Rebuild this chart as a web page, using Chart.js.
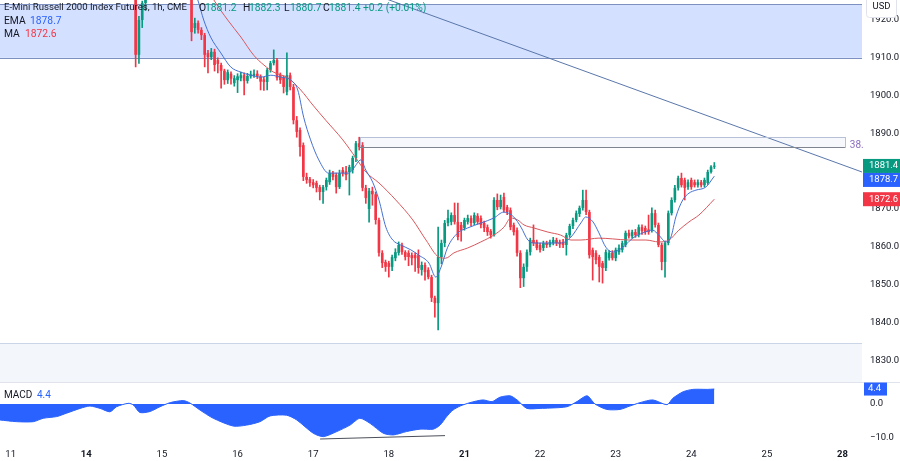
<!DOCTYPE html>
<html><head><meta charset="utf-8">
<script src="https://cdn.jsdelivr.net/npm/chart.js@4.4.1/dist/chart.umd.min.js"></script>
<style>html,body{margin:0;padding:0;background:#fff;}canvas{display:block;}</style>
</head><body>
<canvas id="c" width="900" height="461"></canvas>
<script>
const FONT = 'Roboto, "Liberation Sans", Arial, sans-serif';
const UP = '#089981', DOWN = '#f23645', TXT = '#131722';

// hourly candles, first candle is hour index 38 (hour 0 = session start of the 11th)
const candleStart = 38;
const opens = [
1927,1910.8,1920,1924.5,1927.5,1929,1931,1930,1932,1931,
1933,1934,1933,1932,1931,1929.5,1928,1926,1917.9,1919.2,
1917.4,1916.0,1911.3,1910.2,1911.6,1909.4,1908.1,1906.6,1904.1,1905.8,
1903.3,1904.1,1904.6,1905.4,1903.9,1905.1,1905.2,1905.8,1905.1,1904.3,
1903.6,1906.8,1908.6,1909.4,1905.4,1904.7,1901.0,1905.4,1902.3,1893.5,
1890.9,1886.9,1878.5,1877.9,1877.1,1876.9,1875.8,1874.5,1875.8,1877.1,
1879.5,1879.0,1875.8,1880.3,1880.0,1879.8,1880.3,1883.5,1887.4,1886.9,
1875.6,1870.0,1874.8,1873.9,1867.1,1858.4,1856.0,1855.7,1854.7,1857.0,
1858.4,1860.5,1858.6,1858.4,1857.8,1857.8,1857.8,1853.9,1855.2,1853.9,
1852.0,1846.5,1845.1,1857.3,1861.0,1866.3,1866.6,1868.4,1866.6,1865.8,
1865.0,1866.6,1867.6,1866.3,1868.2,1867.6,1866.3,1865.2,1864.2,1863.1,
1872.4,1870.5,1873.2,1870.5,1869.7,1865.8,1864.4,1858.4,1851.7,1854.7,
1858.6,1861.8,1861.3,1860.5,1859.7,1861.0,1860.5,1861.0,1861.8,1861.3,
1861.3,1860.5,1863.1,1865.5,1867.1,1868.7,1870.3,1872.4,1869.2,1859.2,
1858.4,1857.3,1855.7,1854.4,1857.0,1858.4,1857.0,1858.6,1859.2,1860.5,
1863.7,1862.8,1863.9,1863.1,1865.2,1865.0,1864.6,1864.4,1868.9,1865.8,
1860.5,1856.0,1861.0,1868.9,1872.4,1875.6,1878.2,1877.7,1875.8,1877.7,
1877.1,1876.3,1877.1,1876.3,1876.9,1879.8,1881.2];
const highs = [
1928,1921,1925,1928.5,1930,1932,1932.5,1933,1933,1934,
1935,1935,1934,1933,1932,1930,1929,1927,1920.5,1919.8,
1918,1916.5,1912,1912.5,1912.3,1910,1908.6,1907,1906.8,1906.3,
1905.3,1905.8,1906.2,1906,1905.9,1906.5,1906.8,1906.6,1905.5,1904.9,
1907.2,1909.1,1912.1,1909.9,1906,1905.2,1911.3,1906,1903,1894.5,
1891.5,1887.5,1879.5,1878.4,1877.8,1877.4,1876.3,1876.3,1878.2,1880.3,
1880,1879.5,1880.3,1881,1881.3,1881.6,1884,1887.9,1889.0,1887.6,
1876.3,1875.5,1875.8,1874.5,1867.6,1859,1856.5,1856.2,1857.8,1859.5,
1861.3,1861.0,1859,1859,1858.4,1858.4,1859.2,1856,1855.8,1854.5,
1852.5,1847,1865.2,1861.8,1867,1869.7,1869,1871.6,1871.6,1866.5,
1867.6,1868.4,1868.2,1869.0,1868.8,1868.2,1866.8,1865.8,1864.6,1873.0,
1874,1873.7,1874.2,1871,1870.3,1866.3,1865,1859,1855.5,1859.2,
1862.3,1865.8,1861.8,1861,1861.5,1861.5,1861.8,1862.5,1862.3,1861.8,
1862,1863.6,1866,1867.6,1869.5,1870.8,1875.0,1875.0,1869.7,1859.7,
1859,1857.8,1856.2,1859.2,1859,1859,1859.7,1860.5,1861.5,1864.2,
1864.4,1864.4,1864.6,1865.8,1865.8,1865.5,1868.4,1870.3,1869.7,1866.3,
1861,1861.5,1869.5,1873,1876.3,1878.7,1879.5,1878.2,1877.7,1878.2,
1877.7,1877.7,1877.6,1878.2,1880.3,1881.5,1882.3];
const lows = [
1907.6,1908.5,1918,1922.5,1926,1928,1929,1929.5,1930,1930.5,
1932,1932,1931,1929.5,1928,1927,1925.8,1914.5,1916.5,1916.5,
1914.8,1907.6,1906,1909.5,1906.5,1906,1902,1903,1903.2,1903,
1902.5,1900.8,1903.9,1900.2,1903.3,1904.6,1904.8,1904.5,1901.5,1901.4,
1901.5,1906.2,1908.1,1904.1,1903.2,1900.7,1900.2,1901.5,1892.5,1889,
1884,1877.5,1876.8,1876,1875.6,1874.5,1872.4,1871.5,1875,1876.5,
1877.7,1874.2,1875.4,1878.7,1877.7,1873.7,1879.5,1882.5,1885.6,1874.8,
1871.5,1866.5,1871,1866,1857.5,1854.5,1853.5,1852.0,1853.7,1856.3,
1857.8,1858,1856.5,1855,1855.2,1853.5,1853.0,1852.5,1851.2,1851.5,
1845.5,1841.4,1838.0,1855.5,1860,1865.5,1865.8,1866,1861.8,1861.5,
1864.4,1866,1865.5,1865.8,1866,1865,1864,1863,1862.3,1862.8,
1869.8,1870,1869.2,1868.5,1864.5,1863.1,1857.5,1849.2,1849.5,1853.5,
1857.8,1860.3,1859.2,1858.6,1859,1859.8,1860,1860.5,1860.3,1859.8,
1859.8,1857.8,1862.5,1864.8,1866.6,1868,1869.7,1868.5,1857,1851.2,
1855.5,1850.7,1850.4,1853.7,1856.5,1856.5,1856.3,1858,1858.6,1860,
1862.3,1862.3,1862.5,1862.6,1863.3,1863.3,1863.3,1863.9,1865.2,1860,
1853.9,1852.0,1860.5,1868.4,1871.8,1875,1875.8,1872.4,1875.2,1875.2,
1875.8,1875.8,1875.8,1875.8,1876.5,1879.5,1880.7];
const closes = [
1910.8,1920,1924.5,1927.5,1929,1931,1930,1932,1931,1933,
1934,1933,1932,1931,1929.5,1928,1926,1916.8,1919.2,1917.4,
1916.0,1910.8,1910.2,1911.6,1908.1,1908.4,1906.6,1904.1,1906.2,1904.5,
1904.6,1905.1,1905.4,1903.9,1905.2,1905.6,1905.8,1905.1,1903.7,1903.6,
1906.8,1908.6,1909.4,1904.7,1904.1,1902.3,1905.4,1902.3,1893.5,1890.4,
1886.4,1878.5,1877.7,1876.9,1876.3,1875.6,1874.5,1875.8,1877.7,1879.5,
1878.5,1875.8,1879.5,1879.5,1879.0,1881.1,1883.5,1887.4,1886.4,1875.6,
1872.9,1874.8,1873.9,1867.1,1858.4,1855.7,1854.7,1854.7,1857.3,1858.6,
1860.5,1858.6,1857.3,1857.3,1857.0,1857.0,1854.4,1855.2,1853.3,1852.0,
1846.5,1845.1,1857.3,1861.0,1866.3,1867.6,1868.4,1866.6,1862.6,1864.4,
1867.1,1867.6,1866.3,1868.4,1866.6,1865.8,1865.0,1863.9,1863.1,1872.4,
1870.5,1872.4,1869.7,1869.2,1865.2,1863.9,1858.4,1851.7,1854.7,1858.6,
1861.8,1861.0,1859.7,1859.2,1861.0,1860.5,1861.3,1861.8,1861.0,1860.7,
1860.5,1863.1,1865.5,1867.1,1868.9,1870.3,1872.4,1869.2,1857.8,1857.3,
1856.5,1854.7,1854.4,1858.6,1858.4,1857.0,1859.2,1859.7,1861.0,1863.7,
1862.8,1863.9,1863.1,1865.2,1864.2,1863.9,1863.9,1868.9,1865.8,1860.5,
1856.0,1861.0,1868.9,1872.4,1875.6,1878.2,1876.3,1875.6,1877.1,1875.8,
1876.3,1877.1,1876.3,1877.7,1879.8,1881.2,1881.4];

const emaX = [54.8,56.9,58.7,60.8,63.9,66.9,70.0,73.0,76.1,79.1,82.1,85.2,87.3,89.1,91.2,93.7,96.7,99.8,102.8,104.3,106.5,108.0,110.1,112.0,114.1,116.2,118.6,121.7,124.1,127.2,129.3,130.8,132.9,136.0,139.0,143.0,146.9,150.0,153.0,155.2,157.3,159.1,163.4,167.3,170.4,173.4,174.9,177.1,178.9,181.0,183.1,186.2,189.2,192.3,195.3,197.1,199.3,200.8,202.3,204.4,206.3,208.4,211.4,214];
const emaY = [1929.3,1925.3,1920.0,1915.5,1911.3,1907.6,1906.2,1905.4,1904.9,1905.4,1904.9,1904.1,1901.5,1894.3,1888.3,1883.0,1879.5,1879.5,1879.5,1880.8,1883.0,1880.3,1877.1,1872.4,1865.2,1861.8,1860.5,1859.2,1857.8,1855.7,1852.0,1854.4,1859.9,1863.7,1865.0,1866.3,1867.6,1869.2,1867.9,1865.2,1861.8,1861.0,1861.0,1861.0,1862.6,1866.3,1867.9,1866.6,1863.7,1859.9,1858.6,1859.9,1862.3,1863.7,1864.4,1863.1,1861.3,1862.6,1867.9,1872.4,1874.2,1875.0,1875.8,1878.7];
const maX = [59.3,61.8,66.0,70.0,73.9,77.0,80.0,84.3,88.2,91.9,95.8,101.0,105.0,108.0,112.0,117.1,122.3,126.3,130.2,132.3,134.8,139.0,143.0,146.9,150.0,152.1,154.2,156.1,159.1,163.4,167.3,170.4,173.4,178.9,183.1,188.0,193.2,197.1,200.2,203.2,206.3,209.3,214];
const maY = [1929.3,1925.3,1920.0,1915.5,1910.7,1908.1,1906.2,1904.7,1901.5,1897.5,1893.5,1888.3,1883.5,1879.8,1876.9,1872.4,1867.1,1861.8,1857.3,1857.0,1858.4,1859.7,1861.3,1863.1,1865.2,1867.6,1867.1,1865.8,1865.0,1863.9,1863.1,1861.8,1861.8,1862.3,1862.1,1861.8,1861.8,1861.3,1861.8,1864.4,1866.6,1868.4,1872.6];
const macdX = [-3.3,1.8,6.9,9.9,14.0,17.0,21.1,24.1,27.2,30.2,32.2,35.8,37.3,39.3,42.4,45.4,48.5,52.5,54.5,57.6,61.6,67.7,71.8,75.8,78.9,83.9,87.0,92.0,95.1,99.2,103.2,106.2,109.3,113.3,116.4,120.4,124.5,128.5,130.6,132.6,134.5,136.7,139.7,143.6,146.4,148.8,151.9,154.0,157.0,161.0,164.0,169.2,172.2,175.3,177.7,181.3,185.3,188.3,191.4,195.3,199.6,201.4,204.5,207.5,211.8,214];
const macdY = [-4.7,-5.2,-5.2,-4.2,-3.7,-2.7,-1.3,-0.6,-1.3,-2.3,-0.8,0.2,-0.3,-2.5,-2.2,-0.8,0.4,1.0,0.3,-1.8,-4.2,-6.5,-6.2,-5.2,-3.5,-3.3,-4.7,-8.6,-9.6,-8.1,-6.2,-4.2,-5.7,-8.6,-9.1,-8.1,-7.4,-7.4,-6.2,-3.7,-1.8,-0.6,0.4,1.2,0.7,2.0,2.4,1.2,-1.3,-1.3,-1.2,-0.8,0.7,2.4,0.0,-1.6,-1.6,-0.6,0.4,1.2,-0.2,1.7,3.6,4.3,4.3,4.4];

const dayTicks  = [0,23,46,69,92,115,138,161,184,207,230,253];
const dayLabels = ['11','14','15','16','17','18','21','22','23','24','25','28'];
const boldDays  = ['14','21','28'];
const priceTicks = [1830,1840,1850,1860,1870,1880,1890,1900,1910,1920];
const macdTicks = [0,-10];

const zoneY = [1910.0, 1924.2];
const bandTop = 1834.5;
const fibX = [106.2, 253.7], fibY = [1886.4, 1889.0], fibLabel = '38.';
const trendX = [105, 258.9], trendY = [1928.5, 1879.8];
const divX = [94.1, 132.1], divY = [-10.3, -9.3];

const xy = (xs, ys) => xs.map((x, i) => ({x, y: ys[i]}));
const idx = opens.map((_, k) => candleStart + k);
const cColor = k => closes[k] >= opens[k] ? UP : DOWN;
const crisp = v => Math.round(v) + 0.5;
function seg(ctx, x1, y1, x2, y2) { ctx.beginPath(); ctx.moveTo(x1, y1); ctx.lineTo(x2, y2); ctx.stroke(); }
function txt(ctx, s, x, y, color, size, weight) {
  ctx.font = (weight || 'normal') + ' ' + size + 'px ' + FONT;
  ctx.fillStyle = color; ctx.textBaseline = 'middle'; ctx.textAlign = 'left';
  ctx.fillText(s, x, y);
}

const overlay = {
  id: 'overlay',
  beforeDatasetsDraw(chart) {
    const {ctx, chartArea: a, scales: {y}} = chart;
    ctx.save();
    const zt = y.getPixelForValue(zoneY[1]), zb = y.getPixelForValue(zoneY[0]);
    ctx.fillStyle = 'rgba(41,98,255,0.2)';
    ctx.fillRect(a.left, zt, a.right - a.left, zb - zt);
    ctx.strokeStyle = '#7c91c0'; ctx.lineWidth = 1;
    seg(ctx, a.left, crisp(zt), a.right, crisp(zt));
    seg(ctx, a.left, crisp(zb), a.right, crisp(zb));
    const bt = y.getPixelForValue(bandTop);
    ctx.fillStyle = '#f3f6fb';
    ctx.fillRect(a.left, bt, a.right - a.left, y.bottom - bt);
    ctx.strokeStyle = '#cbd5e8';
    seg(ctx, a.left, crisp(bt), a.right, crisp(bt));
    ctx.restore();
  },
  afterDatasetsDraw(chart) {
    const {ctx, scales: {x, y}} = chart;
    ctx.save();
    const x1 = x.getPixelForValue(fibX[0]), x2 = x.getPixelForValue(fibX[1]);
    const yt = y.getPixelForValue(fibY[1]), yb = y.getPixelForValue(fibY[0]);
    ctx.fillStyle = 'rgba(150,165,200,0.08)';
    ctx.fillRect(x1, yt, x2 - x1, yb - yt);
    ctx.strokeStyle = '#b6c0d6'; ctx.lineWidth = 1;
    ctx.strokeRect(crisp(x1), crisp(yt), Math.round(x2 - x1), Math.round(yb - yt));
    ctx.strokeStyle = '#80848f';
    seg(ctx, x1, crisp(yb), x2, crisp(yb));
    txt(ctx, fibLabel, x2 + 5, yb - 2, '#8a6cc0', 10);
    ctx.restore();
  },
  afterDraw(chart) {
    const {ctx, scales: {y, m}} = chart;
    ctx.save();
    ctx.strokeStyle = '#e0e3eb'; ctx.lineWidth = 1;
    seg(ctx, 0, crisp(y.bottom), 900, crisp(y.bottom));
    // legend
    const n = opens.length - 1;
    const o = opens[n], h = highs[n], l = lows[n], c = closes[n];
    const chg = c - closes[n - 1];
    const pct = chg / closes[n - 1] * 100;
    const vc = c >= o ? UP : DOWN;
    txt(ctx, 'E-Mini Russell 2000 Index Futures, 1h, CME', 4, 8, TXT, 9.6);
    const parts = [['O', 199, TXT], [o.toFixed(1), 205, vc], ['H', 243, TXT], [h.toFixed(1), 249, vc],
                   ['L', 284, TXT], [l.toFixed(1), 290, vc], ['C', 323, TXT], [c.toFixed(1), 329, vc],
                   [(chg >= 0 ? '+' : '') + chg.toFixed(1) + ' (' + (pct >= 0 ? '+' : '') + pct.toFixed(2) + '%)', 363, vc]];
    parts.forEach(p => txt(ctx, p[0], p[1], 8, p[2], 10.3));
    txt(ctx, 'EMA', 4, 21, TXT, 10.3);
    txt(ctx, emaY[emaY.length - 1].toFixed(1), 30, 21, '#2962ff', 10.3);
    txt(ctx, 'MA', 4, 34, TXT, 10.3);
    txt(ctx, maY[maY.length - 1].toFixed(1), 25, 34, DOWN, 10.3);
    txt(ctx, 'MACD', 4, 395, TXT, 10);
    txt(ctx, macdY[macdY.length - 1].toFixed(1), 37, 395, '#2962ff', 10);
    // USD box
    ctx.fillStyle = '#fff'; ctx.strokeStyle = '#e0e3eb';
    ctx.beginPath(); ctx.roundRect(866.5, -3.5, 30, 21, 3); ctx.fill(); ctx.stroke();
    ctx.font = '9.5px ' + FONT; ctx.fillStyle = TXT; ctx.textAlign = 'center'; ctx.textBaseline = 'middle';
    ctx.fillText('USD', 881.5, 7);
    // last value labels
    const labs = [{v: c, col: UP}, {v: emaY[emaY.length - 1], col: '#2962ff'}, {v: maY[maY.length - 1], col: DOWN}]
      .map(L => ({...L, py: y.getPixelForValue(L.v)})).sort((a, b) => a.py - b.py);
    const H = 14; let prev = -1e9;
    labs.forEach(L => {
      let top = L.py - H / 2; if (top < prev) top = prev; prev = top + H;
      ctx.fillStyle = L.col; ctx.fillRect(y.left + 1, top, 37, H);
      ctx.font = '9.5px ' + FONT; ctx.fillStyle = '#fff'; ctx.textAlign = 'left';
      ctx.fillText(L.v.toFixed(1), y.left + 7, top + H / 2);
    });
    const mv = macdY[macdY.length - 1], mp = m.getPixelForValue(mv);
    ctx.fillStyle = '#2962ff'; ctx.fillRect(y.left + 2, mp - 6.5, 23, 13);
    ctx.fillStyle = '#fff'; ctx.fillText(mv.toFixed(1), y.left + 6, mp);
    ctx.restore();
  }
};

const axisFont = {family: FONT, size: 9.5};
new Chart(document.getElementById('c'), {
  type: 'bar',
  data: { datasets: [
    { type: 'bar', data: idx.map((x, k) => ({x, y: [lows[k], highs[k]]})), backgroundColor: cx => cColor(cx.dataIndex),
      grouped: false, barPercentage: 1, categoryPercentage: 1, maxBarThickness: 1, yAxisID: 'y', order: 5 },
    { type: 'bar', data: idx.map((x, k) => ({x, y: [opens[k], closes[k]]})), backgroundColor: cx => cColor(cx.dataIndex),
      grouped: false, barPercentage: 0.8, categoryPercentage: 1, minBarLength: 1, yAxisID: 'y', order: 4 },
    { type: 'line', data: xy(maX, maY), borderColor: '#d9575c', borderWidth: 1, pointRadius: 0, cubicInterpolationMode: 'monotone', yAxisID: 'y', order: 3 },
    { type: 'line', data: xy(emaX, emaY), borderColor: '#4470d2', borderWidth: 1, pointRadius: 0, cubicInterpolationMode: 'monotone', yAxisID: 'y', order: 2 },
    { type: 'line', data: xy(trendX, trendY), borderColor: '#5a77aa', borderWidth: 1, pointRadius: 0, yAxisID: 'y', order: 1 },
    { type: 'line', data: xy(macdX, macdY), borderColor: '#2962ff', backgroundColor: '#2962ff', fill: {value: 0}, borderWidth: 1, pointRadius: 0, tension: 0.25, yAxisID: 'm', order: 1 },
    { type: 'line', data: xy(divX, divY), borderColor: '#4c4f59', borderWidth: 1, pointRadius: 0, yAxisID: 'm', order: 0 }
  ]},
  options: {
    responsive: false, animation: false, devicePixelRatio: 1, events: [],
    layout: {padding: 0},
    plugins: {legend: {display: false}, tooltip: {enabled: false}},
    scales: {
      x: { type: 'linear', min: -3.254, max: 258.91, offset: false,
        grid: {display: false, drawTicks: false}, border: {display: false},
        afterBuildTicks: s => { s.ticks = dayTicks.map(v => ({value: v})); },
        ticks: { autoSkip: false, maxRotation: 0, padding: 2, color: TXT,
          callback: (v, i) => dayLabels[i],
          font: cx => ({family: FONT, size: 9.5, weight: boldDays.includes(dayLabels[cx.index]) ? 'bold' : 'normal'}) },
        afterFit: s => { s.height = 14; s.paddingLeft = 0; s.paddingRight = 0; } },
      y: { position: 'right', stack: 'pane', stackWeight: 382, min: 1824.24, max: 1925.3,
        grid: {display: false, drawTicks: false}, border: {display: false},
        afterBuildTicks: s => { s.ticks = priceTicks.map(v => ({value: v})); },
        ticks: { padding: 8, color: TXT, font: axisFont, callback: v => v.toFixed(1) },
        afterFit: s => { s.width = 38; s.paddingTop = 0; s.paddingBottom = 0; } },
      m: { position: 'right', stack: 'pane', stackWeight: 65, min: -12.65, max: 6.47,
        grid: {display: false, drawTicks: false}, border: {display: false},
        afterBuildTicks: s => { s.ticks = macdTicks.map(v => ({value: v})); },
        ticks: { padding: 8, color: TXT, font: axisFont, callback: v => (v < 0 ? '\u2212' : '') + Math.abs(v).toFixed(1) },
        afterFit: s => { s.width = 38; s.paddingTop = 0; s.paddingBottom = 0; } }
    }
  },
  plugins: [overlay]
});
</script></body></html>
